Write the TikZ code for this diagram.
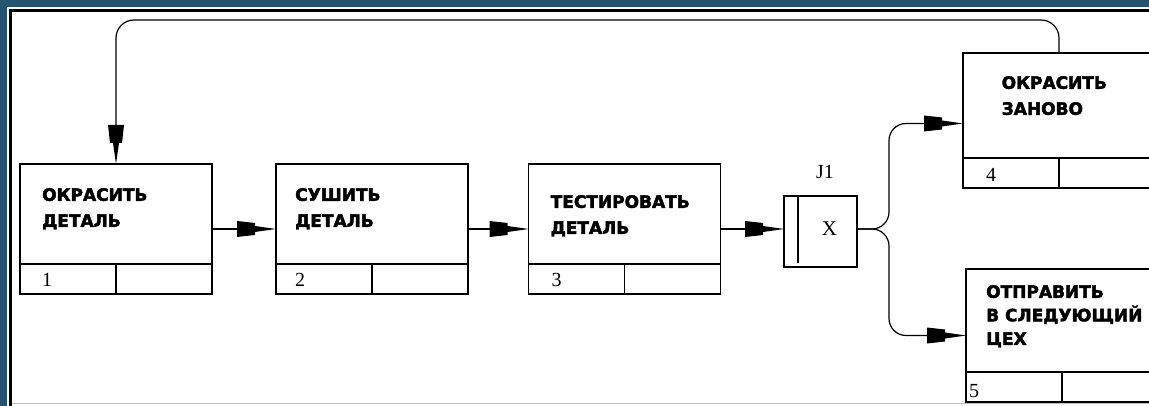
\documentclass[tikz,border=0pt]{standalone}
\usepackage{fontspec}
\setmainfont{Liberation Serif}
\newfontfamily\lblfont{DejaVu Sans}[BoldFeatures={FakeBold=2.5}]
\usetikzlibrary{arrows.meta}
\definecolor{bgblue}{HTML}{26536E}

\pgfdeclarearrow{
  name = IDEF,
  setup code = {
    \pgfarrowssettipend{0pt}
    \pgfarrowssetlineend{-25pt}
    \pgfarrowssetbackend{-39pt}
    \pgfarrowsupperhullpoint{0pt}{0pt}
    \pgfarrowsupperhullpoint{-39pt}{8pt}
  },
  drawing code = {
    \pgfpathmoveto{\pgfqpoint{0pt}{0pt}}
    \pgfpathlineto{\pgfqpoint{-21pt}{3pt}}
    \pgfpathlineto{\pgfqpoint{-21pt}{6pt}}
    \pgfpathlineto{\pgfqpoint{-39pt}{8pt}}
    \pgfpathlineto{\pgfqpoint{-39pt}{-8pt}}
    \pgfpathlineto{\pgfqpoint{-21pt}{-6pt}}
    \pgfpathlineto{\pgfqpoint{-21pt}{-3pt}}
    \pgfpathclose
    \pgfusepathqfill
  }
}

\tikzset{
  box/.style={draw, line width=1.4pt, minimum width=192pt, inner sep=0pt, outer sep=0pt, anchor=north west},
  divline/.style={line width=1.4pt},
  lbl/.style={anchor=north west, inner sep=0pt, align=left, font=\lblfont\bfseries\fontsize{17}{26}\selectfont},
  lbltight/.style={lbl, font=\lblfont\bfseries\fontsize{17}{23.5}\selectfont},
  num/.style={anchor=base west, inner sep=0pt, font=\fontsize{20}{24}\selectfont},
  flow/.style={line width=1.2pt, -{IDEF}},
  junc/.style={draw, line width=1.4pt, minimum width=73pt, minimum height=71pt, inner sep=0pt, outer sep=0pt, anchor=north west},
}

\begin{document}
\begin{tikzpicture}[x=1pt,y=-1pt]
\useasboundingbox (0,0) rectangle (1149,406);
\clip (0,0) rectangle (1149,406);
\fill[bgblue] (0,0) rectangle (1149,406);
\fill[white] (7,7) rectangle (1149,406);
\draw[line width=3.5pt] (10.5,406) -- (10.5,10.5) -- (1149,10.5);
\draw[gray!50, line width=1pt] (12,403) -- (1149,403);

% units of behaviour
\node[box, minimum height=130pt] (b1) at (20,164) {};
\node[box, minimum height=130pt] (b2) at (276,164) {};
\node[box, minimum height=130pt] (b3) at (528.5,164) {};
\node[box, minimum height=135pt] (b4) at (963,53) {};
\node[box, minimum height=133pt] (b5) at (966,269) {};

\foreach \b in {b1,b2,b3,b4,b5} {
  \draw[divline] ([yshift=30pt]\b.south west) -- ([yshift=30pt]\b.south east);
  \draw[divline] ([yshift=30pt]\b.south) -- (\b.south);
}

\node[lbl] (t1) at ([xshift=22pt,yshift=-24pt]b1.north west) {ОКРАСИТЬ\\ДЕТАЛЬ};
\node[lbl] (t2) at ([xshift=19pt,yshift=-24pt]b2.north west) {СУШИТЬ\\ДЕТАЛЬ};
\node[lbl] (t3) at ([xshift=22pt,yshift=-31pt]b3.north west) {ТЕСТИРОВАТЬ\\ДЕТАЛЬ};
\node[lbl] (t4) at ([xshift=38.5pt,yshift=-23pt]b4.north west) {ОКРАСИТЬ\\ЗАНОВО};
\node[lbltight] (t5) at ([xshift=20pt,yshift=-16pt]b5.north west) {ОТПРАВИТЬ\\В СЛЕДУЮЩИЙ\\ЦЕХ};

\node[num] (n1) at ([xshift=22pt,yshift=7pt]b1.south west) {1};
\node[num] (n2) at ([xshift=19pt,yshift=7pt]b2.south west) {2};
\node[num] (n3) at ([xshift=23pt,yshift=7pt]b3.south west) {3};
\node[num] (n4) at ([xshift=23pt,yshift=6.3pt]b4.south west) {4};
\node[num] (n5) at ([xshift=3pt,yshift=5pt]b5.south west) {5};

% junction
\node[junc] (J) at (784,196) {};
\draw[divline] ([xshift=14pt]J.north west) -- ([xshift=14pt,yshift=4pt]J.south west);
\node[inner sep=0pt, font=\fontsize{21}{25}\selectfont] (jx) at (829.5,228.5) {X};
\node[inner sep=0pt, anchor=base, font=\fontsize{20}{24}\selectfont] (jl) at (825,179) {J1};

% connectors
\coordinate (top) at (0,20);
\coordinate (bx) at (889,0);
\coordinate (c4) at ([yshift=-3pt]b4.west);
\draw[flow] (b1.east) -- (b2.west);
\draw[flow] (b2.east) -- (b3.west);
\draw[flow] (b3.east) -- (J.west |- b3.east);
\draw[flow, rounded corners=17pt] (J.east |- b3.east) -| (bx |- c4) -- (c4);
\draw[flow, rounded corners=17pt] (J.east |- b3.east) -| (bx |- b5.west) -- (b5.west);
\draw[flow, rounded corners=18pt] (b4.north) |- (b1.north |- top) -- (b1.north);
\end{tikzpicture}
\end{document}
